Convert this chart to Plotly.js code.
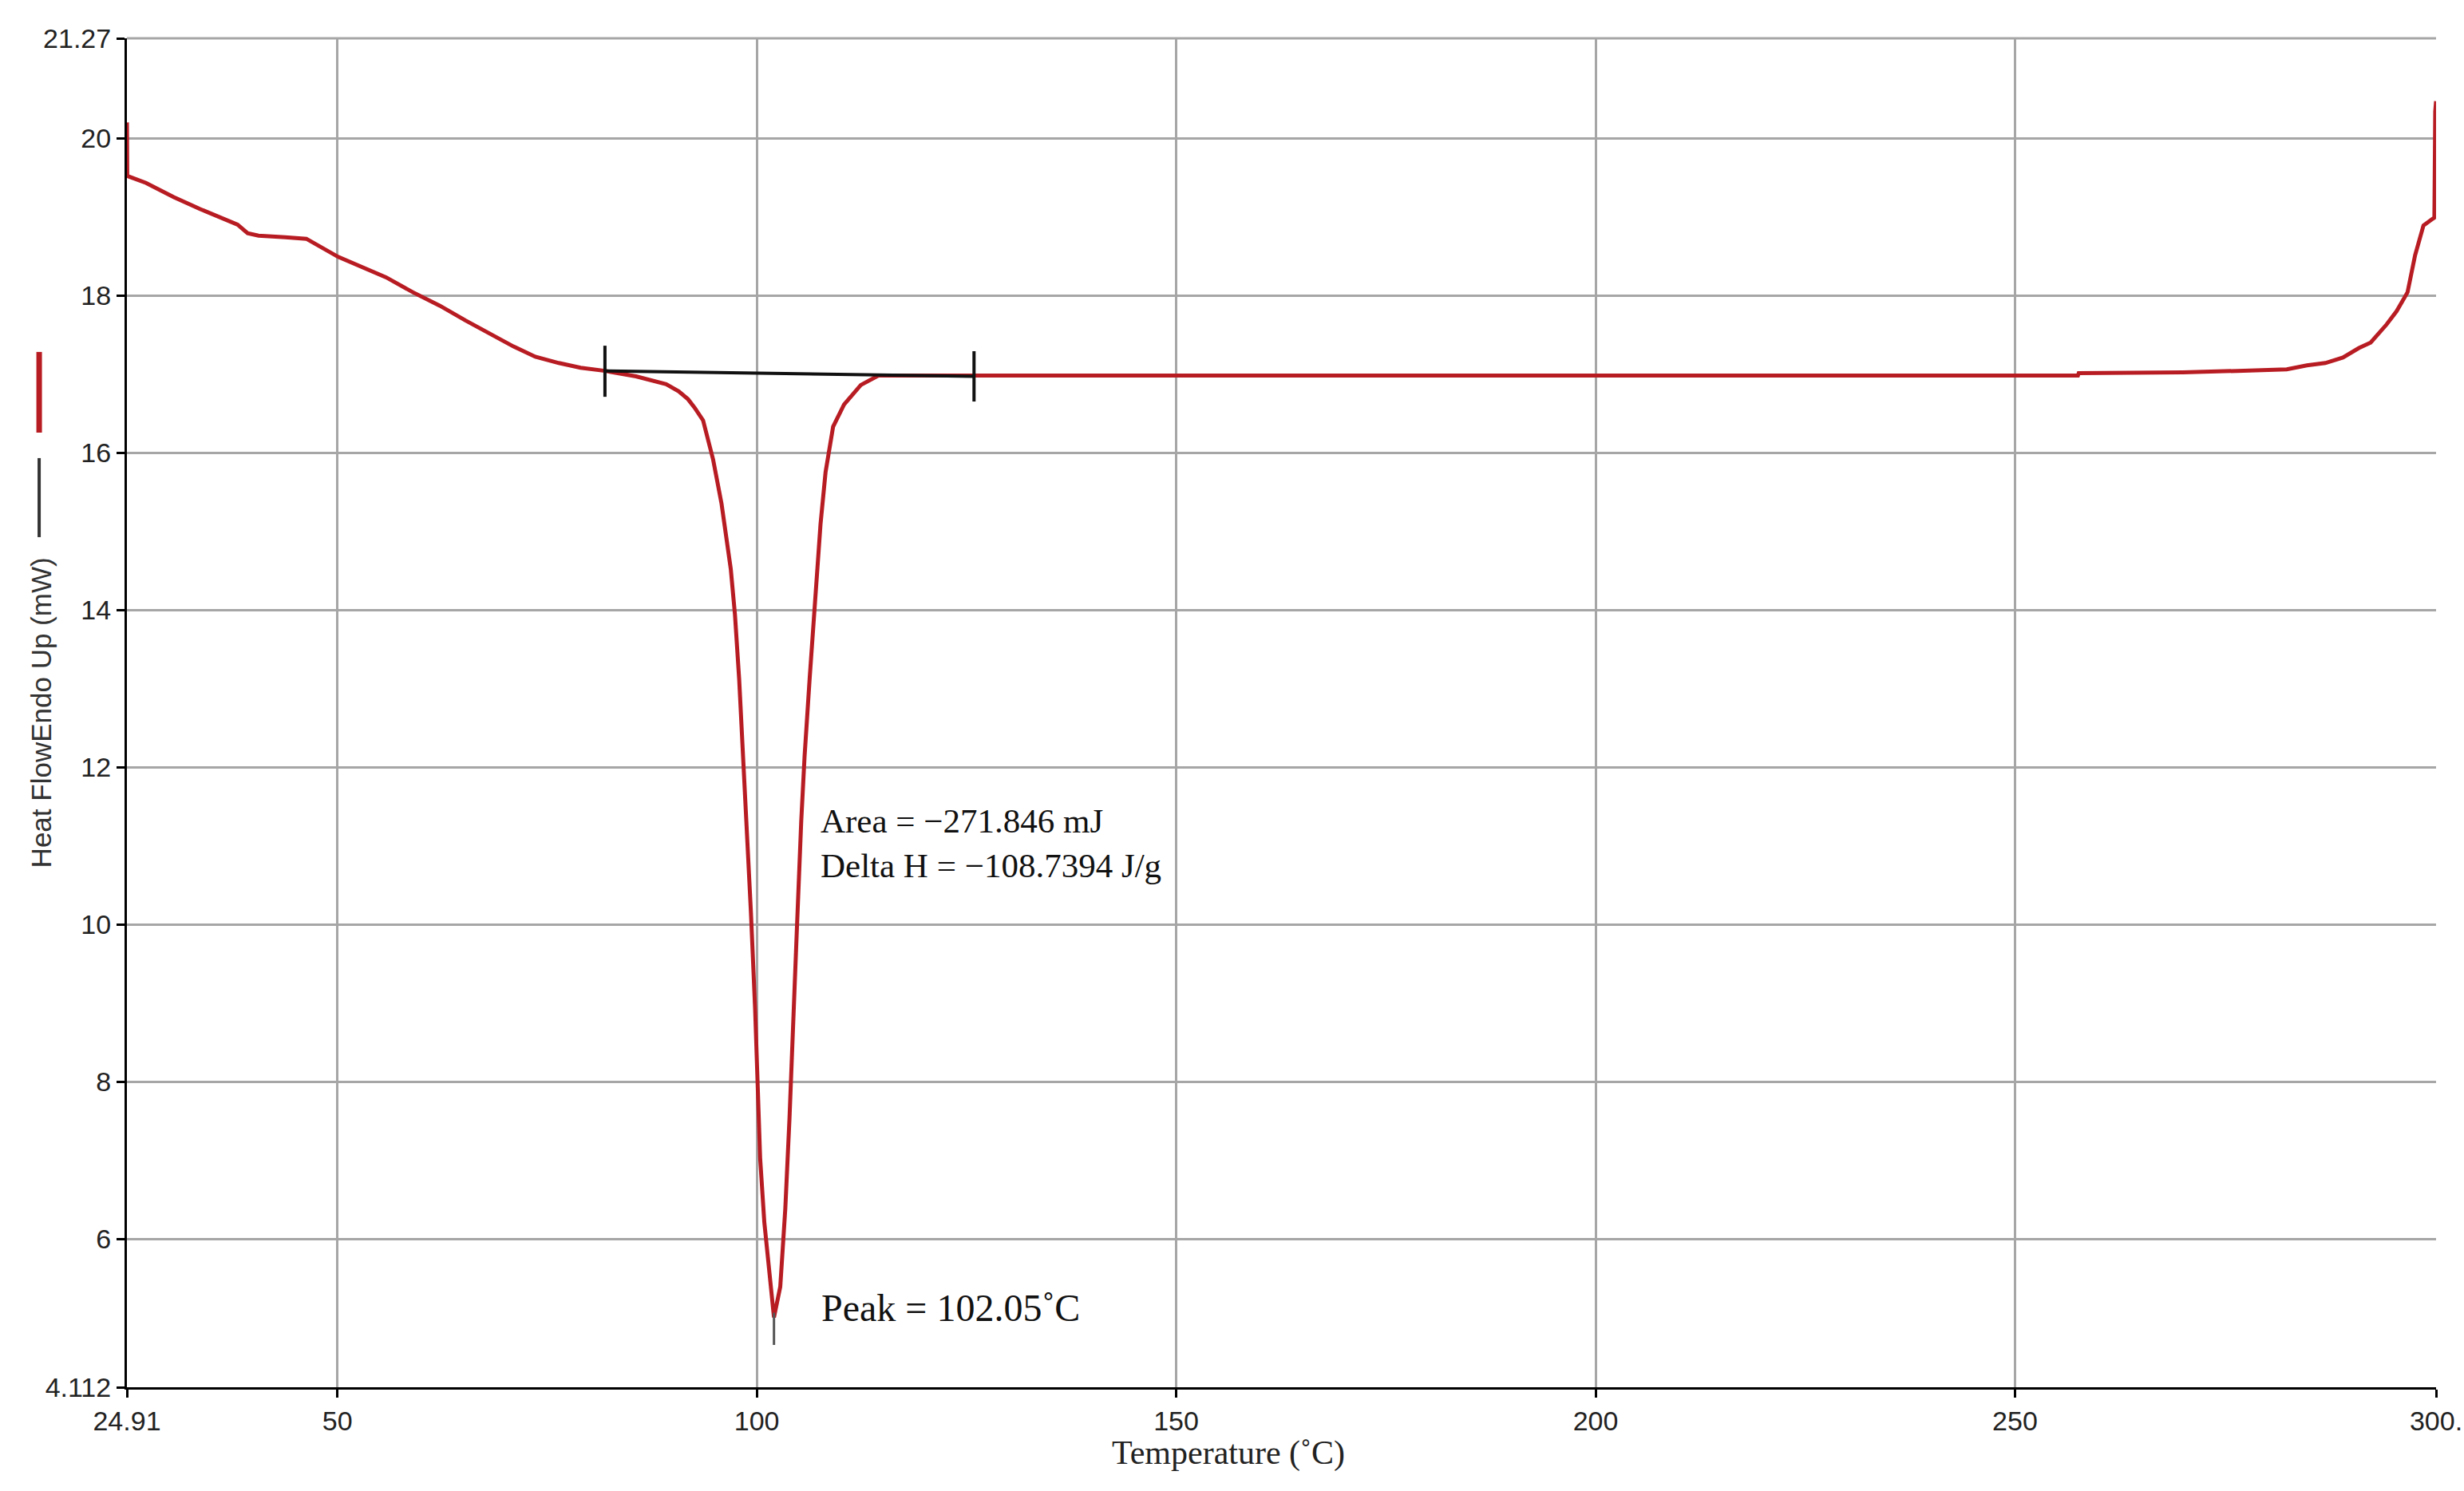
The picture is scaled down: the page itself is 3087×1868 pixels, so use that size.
<!DOCTYPE html>
<html>
<head>
<meta charset="utf-8">
<script src="https://cdn.plot.ly/plotly-3.0.1.min.js"></script>
<style>
  html, body { margin: 0; padding: 0; background: #fff; }
  #plot { width: 3087px; height: 1868px; }
</style>
</head>
<body>
<div id="plot"></div>
<script>
// DSC heat flow curve
const tempC = [24.91, 24.95, 27.2, 30.5, 33.6, 38.1, 39.3, 40.6, 43.8, 46.3,
  50.1, 52.6, 55.8, 59.0, 62.2, 65.3, 68.5, 71.0, 73.6, 76.4, 79.0, 81.9,
  85.6, 88.0, 89.2, 90.7, 91.8, 92.6, 93.6, 94.8, 95.8, 96.9, 97.4, 97.9,
  98.4, 98.8, 99.3, 99.8, 100.1, 100.4, 100.9, 101.5, 102.05, 102.8, 103.4,
  103.9, 104.4, 104.8, 105.3, 105.7, 106.3, 106.9, 107.6, 108.2, 109.1,
  110.4, 112.4, 114.5, 116.5, 125, 150, 200, 250, 257.5, 257.6, 270, 276.5,
  282.4, 284.8, 287.0, 289.1, 291.0, 292.4, 294.3, 295.5, 296.8, 297.7,
  298.7, 300.0, 300.0, 300.1, 300.2];
const heatFlow = [20.2, 19.52, 19.43, 19.25, 19.10, 18.90, 18.79, 18.76, 18.74, 18.72,
  18.49, 18.38, 18.23, 18.04, 17.87, 17.68, 17.50, 17.35, 17.22, 17.14, 17.08, 17.04,
  16.97, 16.90, 16.87, 16.78, 16.68, 16.57, 16.41, 15.91, 15.35, 14.52, 13.94, 13.12,
  12.14, 11.14, 10.16, 8.93, 8.03, 7.03, 6.21, 5.56, 5.0, 5.39, 6.38,
  7.53, 9.01, 9.99, 11.31, 12.14, 13.12, 14.11, 15.09, 15.75, 16.33,
  16.61, 16.86, 16.98, 16.98, 16.97, 16.97, 16.97, 16.98, 16.98, 17.01, 17.02, 17.04,
  17.06, 17.11, 17.14, 17.21, 17.33, 17.40, 17.63, 17.80, 18.04, 18.51,
  18.89, 18.99, 19.56, 20.34, 20.47];

// integration baseline with its end marks, and the peak mark
const baseX = [81.9, 125.9, null, 81.9, 81.9, null, 125.9, 125.9];
const baseY = [17.04, 16.97, null, 17.36, 16.71, null, 17.29, 16.65];
const peakX = [102.05, 102.05];
const peakY = [5.06, 4.65];

// axis ticks
const xTicks = [24.91, 50, 100, 150, 200, 250, 300.2];
const xTickText = ['24.91', '50', '100', '150', '200', '250', '300.'];
const yTicks = [4.112, 6, 8, 10, 12, 14, 16, 18, 20, 21.27];
const yTickText = ['4.112', '6', '8', '10', '12', '14', '16', '18', '20', '21.27'];

const redColor = '#b81c23';
const gridColor = '#a6a6a6';
const sans = 'Liberation Sans, Arial, sans-serif';
const serif = 'Liberation Serif, Times New Roman, serif';

const traces = [
  {
    x: tempC, y: heatFlow,
    mode: 'lines', type: 'scatter',
    line: { color: redColor, width: 5 }
  },
  {
    x: baseX, y: baseY,
    mode: 'lines', type: 'scatter',
    line: { color: '#111', width: 4 },
    connectgaps: false
  },
  {
    x: peakX, y: peakY,
    mode: 'lines', type: 'scatter',
    line: { color: '#555', width: 3 }
  }
];

const axisCommon = {
  showgrid: true,
  gridcolor: gridColor,
  gridwidth: 3,
  showline: true,
  linecolor: '#000',
  linewidth: 3,
  ticks: 'outside',
  ticklen: 10,
  tickwidth: 3,
  tickcolor: '#000',
  zeroline: false,
  tickmode: 'array',
  tickfont: { family: sans, size: 34, color: '#222' }
};

const layout = {
  width: 3087,
  height: 1868,
  margin: { l: 159, r: 35, t: 48, b: 130 },
  paper_bgcolor: '#fff',
  plot_bgcolor: '#fff',
  showlegend: false,
  xaxis: Object.assign({}, axisCommon, {
    range: [24.91, 300.2],
    tickvals: xTicks,
    ticktext: xTickText
  }),
  yaxis: Object.assign({}, axisCommon, {
    range: [4.112, 21.27],
    tickvals: yTicks,
    ticktext: yTickText
  }),
  shapes: [
    // top frame line (grey like the grid)
    { type: 'line', xref: 'paper', yref: 'paper', x0: 0, x1: 1, y0: 1, y1: 1,
      layer: 'below', line: { color: gridColor, width: 3 } },
    // legend swatches next to the y title
    { type: 'line', xref: 'paper', yref: 'paper', x0: -0.038, x1: -0.038, y0: 0.7077, y1: 0.7675,
      line: { color: redColor, width: 7 } },
    { type: 'line', xref: 'paper', yref: 'paper', x0: -0.038, x1: -0.038, y0: 0.6302, y1: 0.6888,
      line: { color: '#333', width: 4 } }
  ],
  annotations: [
    {
      text: 'Heat FlowEndo Up (mW)',
      xref: 'paper', yref: 'paper', x: -0.0372, y: 0.5,
      xanchor: 'center', yanchor: 'middle', textangle: -90,
      showarrow: false,
      font: { family: sans, size: 35, color: '#333' }
    },
    {
      text: 'Temperature (˚C)',
      xref: 'x', yref: 'paper', x: 156.2, y: -0.0488,
      xanchor: 'center', yanchor: 'middle',
      showarrow: false,
      font: { family: serif, size: 42, color: '#222' }
    },
    {
      text: 'Area = −271.846 mJ<br>Delta H = −108.7394 J/g',
      xref: 'x', yref: 'y', x: 107.44, y: 11.03,
      xanchor: 'left', yanchor: 'middle', align: 'left',
      showarrow: false,
      font: { family: serif, size: 43, color: '#111' }
    },
    {
      text: 'Peak = 102.05˚C',
      xref: 'x', yref: 'y', x: 107.5, y: 5.12,
      xanchor: 'left', yanchor: 'middle',
      showarrow: false,
      font: { family: serif, size: 48, color: '#111' }
    }
  ]
};

Plotly.newPlot('plot', traces, layout, { displayModeBar: false, staticPlot: true });
</script>
</body>
</html>
